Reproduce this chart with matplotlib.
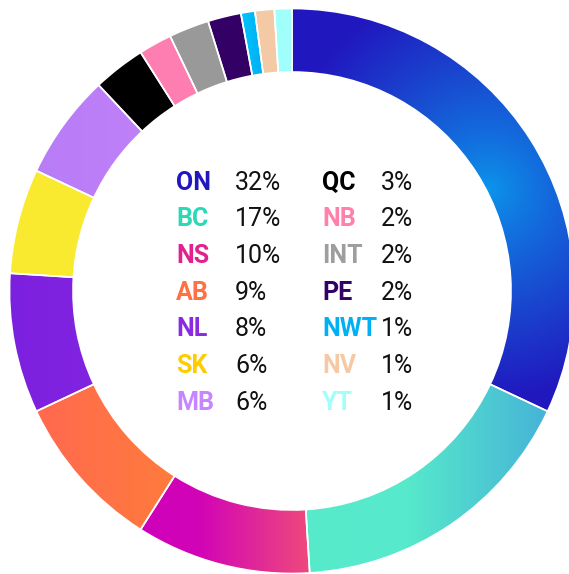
import numpy as np
import matplotlib
matplotlib.use("Agg")
import matplotlib.pyplot as plt
from matplotlib.colors import to_rgb

# ---- data ----
regions = ["ON", "BC", "NS", "AB", "NL", "SK", "MB",
           "QC", "NB", "INT", "PE", "NWT", "NV", "YT"]
shares = [32.0, 17.0, 10.0, 9.0, 8.0, 6.0, 6.0,
          3.0, 1.9, 2.3, 1.9, 0.8, 1.1, 1.0]
pct_labels = ["32%", "17%", "10%", "9%", "8%", "6%", "6%",
              "3%", "2%", "2%", "2%", "1%", "1%", "1%"]

# ---- styles ----
# gradient stops (left -> right) for each wedge
wedge_grad = {
    "ON": None,  # radial, handled separately
    "BC": [(0.0, "#56EBCB"), (0.45, "#56E9CB"), (1.0, "#46B3D7")],
    "NS": [(0.0, "#CF00BA"), (0.35, "#D204B6"), (1.0, "#EE4A7C")],
    "AB": [(0.0, "#FF694F"), (1.0, "#FF8B2D")],
    "NL": [(0.0, "#7C20DF"), (1.0, "#8E2DE6")],
    "SK": [(0.0, "#F9EA30"), (1.0, "#F9EA30")],
    "MB": [(0.0, "#B97CF8"), (1.0, "#C787F6")],
    "QC": [(0.0, "#000000"), (1.0, "#000000")],
    "NB": [(0.0, "#FF7EB1"), (1.0, "#FF7EB1")],
    "INT": [(0.0, "#999999"), (1.0, "#999999")],
    "PE": [(0.0, "#330066"), (1.0, "#330066")],
    "NWT": [(0.0, "#00C6FF"), (1.0, "#008DDF")],
    "NV": [(0.0, "#F4C9A5"), (1.0, "#F4C9A5")],
    "YT": [(0.0, "#A0FFFA"), (1.0, "#A0FFFA")],
}
text_colors = ["#2117BE", "#2ED8B6", "#E0218F", "#FF7043", "#8A2BE2", "#FFCC00", "#C586FF",
               "#000000", "#FF80AB", "#9E9E9E", "#330066", "#00B0F5", "#F5C9A5", "#A0FFFA"]

W, H = 569, 574
fig = plt.figure(figsize=(W / 100, H / 100), dpi=100)
ax = fig.add_axes([0, 0, 1, 1])

cx, cy_down = 292.0, 291.0
R, ring = 282.5, 63.5
cy = H - cy_down

wedges, _ = ax.pie(shares, center=(cx, cy), radius=R, startangle=90, counterclock=False,
                   wedgeprops=dict(width=ring, edgecolor="white", linewidth=1.2, facecolor="none"),
                   frame=False)

# pixel grid (y down)
xs = np.arange(W) + 0.5
ys = np.arange(H) + 0.5
X, Y = np.meshgrid(xs, ys)


def interp_stops(t, stops):
    pos = np.array([s[0] for s in stops])
    cols = np.array([to_rgb(s[1]) for s in stops])
    out = np.zeros(t.shape + (3,))
    for c in range(3):
        out[..., c] = np.interp(t, pos, cols[:, c])
    return out


for name, w in zip(regions, wedges):
    w.set_zorder(3)
    if name == "ON":
        dark = np.array(to_rgb("#2117BE"))
        light = np.array(to_rgb("#0C96EC"))
        d = np.hypot(X - 488, Y - 190)
        t = np.clip(d / 210.0, 0, 1) ** 0.85
        img = light[None, None, :] * (1 - t[..., None]) + dark[None, None, :] * t[..., None]
    else:
        verts = w.get_path().vertices
        x0, x1 = verts[:, 0].min(), verts[:, 0].max()
        t = np.clip((X - x0) / max(x1 - x0, 1e-6), 0, 1)
        img = interp_stops(t, wedge_grad[name])
    im = ax.imshow(img, extent=[0, W, 0, H], origin="upper", zorder=2, interpolation="bilinear")
    clip = plt.matplotlib.patches.Wedge(w.center, w.r, w.theta1, w.theta2, width=w.width,
                                        transform=ax.transData)
    im.set_clip_path(clip)

# legend in the centre
fam = ["Roboto", "DejaVu Sans"]
row0 = 189.5
dy = 36.7
col_label_x = [176, 322]
col_pct_x = [235, 381]
for i, (name, pct, col) in enumerate(zip(regions, pct_labels, text_colors)):
    c = i // 7
    r = i % 7
    yb = H - (row0 + r * dy)
    ax.text(col_label_x[c], yb, name, color=col, fontsize=18, fontweight="bold",
            family=fam, ha="left", va="baseline", zorder=5)
    ax.text(col_pct_x[c], yb, pct, color="#111111", fontsize=18,
            family=fam, ha="left", va="baseline", zorder=5)

ax.set_xlim(0, W)
ax.set_ylim(0, H)
ax.set_aspect("equal")
ax.axis("off")
fig.savefig("out.png", dpi=100, facecolor="white")
